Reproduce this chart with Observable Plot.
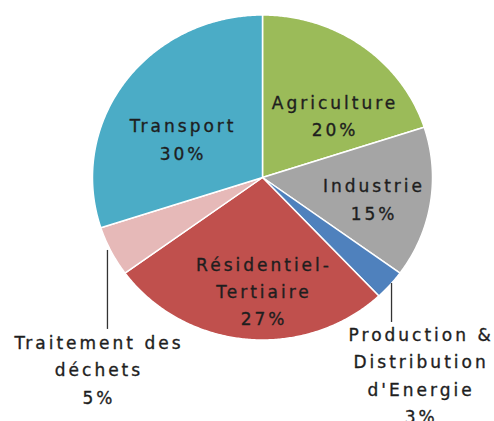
<!DOCTYPE html>
<html>
<head>
<meta charset="utf-8">
<script src="https://cdn.jsdelivr.net/npm/d3@7"></script>
<script src="https://cdn.jsdelivr.net/npm/@observablehq/plot@0.6"></script>
<style>
  html, body { margin: 0; padding: 0; background: #fff; }
</style>
</head>
<body>
<div id="chart"></div>
<script>
// --- data ---
const categories = ["Agriculture", "Industrie", "Production & Distribution d'Energie", "Résidentiel-Tertiaire", "Traitement des déchets", "Transport"];
const values = [20, 15, 3, 27, 5, 30];
const colors = ["#9BBB59", "#A5A5A5", "#4F81BD", "#C0504D", "#E6B9B8", "#4BACC6"];
const labelText = ["Agriculture", "Industrie", "Production &\nDistribution\nd'Energie", "Résidentiel-\nTertiaire", "Traitement des\ndéchets", "Transport"];

// --- layout (label anchors in unit-circle coordinates) ---
const labelPos = [[0.427, 0.394], [0.656, -0.122], [0.933, -1.205], [0.009, -0.687], [-0.962, -1.17], [-0.467, 0.247]];
const leaders = [null, null, [0.759, -0.652, -0.892], null, [-0.912, -0.449, -0.935], null];

// build slice polygons (clockwise from 12 o'clock)
const total = d3.sum(values);
const pts = [];
let acc = 0;
values.forEach((v, i) => {
  const a0 = acc / total * 2 * Math.PI;
  acc += v;
  const a1 = acc / total * 2 * Math.PI;
  pts.push({k: categories[i], c: colors[i], x: 0, y: 0});
  const n = Math.max(2, Math.ceil((a1 - a0) / (Math.PI / 360)));
  for (let j = 0; j <= n; j++) {
    const a = a0 + (a1 - a0) * j / n;
    pts.push({k: categories[i], c: colors[i], x: Math.sin(a), y: Math.cos(a)});
  }
});

const labels = categories.map((c, i) => ({
  text: labelText[i] + "\n" + values[i] + "%",
  x: labelPos[i][0], y: labelPos[i][1]
}));
const rules = leaders.map((l, i) => l && ({x: l[0], y1: l[1], y2: l[2]})).filter(Boolean);

const chart = Plot.plot({
  width: 494,
  height: 421,
  margin: 0,
  x: {domain: [-1, 1], range: [92, 432], axis: null},
  y: {domain: [-1, 1], range: [339.5, 14.5], axis: null},
  color: {type: "identity"},
  style: {fontFamily: "'DejaVu Sans', Verdana, sans-serif", letterSpacing: "3px", background: "#fff"},
  marks: [
    Plot.line(pts, {x: "x", y: "y", z: "k", fill: "c", stroke: "#fff", strokeWidth: 1.5, curve: "linear-closed"}),
    Plot.ruleX(rules, {x: "x", y1: "y1", y2: "y2", stroke: "#333", strokeWidth: 1.3}),
    Plot.text(labels, {x: "x", y: "y", text: "text", fontSize: 17, lineHeight: 1.6, fill: "#1e1e1e", stroke: "#1e1e1e", strokeWidth: 0.35, textAnchor: "middle"})
  ]
});
document.getElementById("chart").appendChild(chart);
</script>
</body>
</html>
